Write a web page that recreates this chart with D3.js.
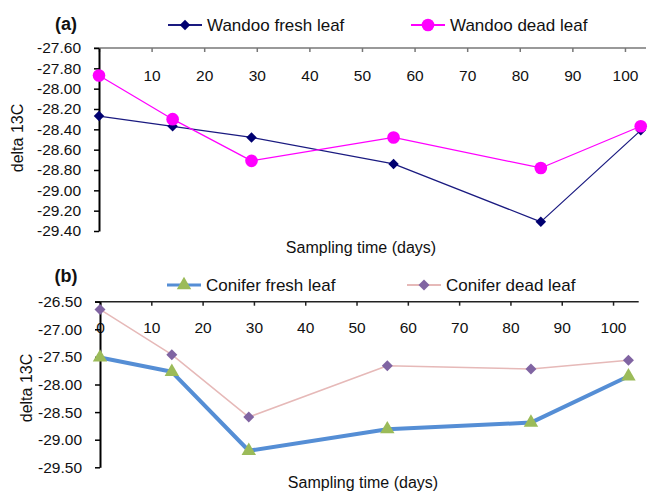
<!DOCTYPE html>
<html><head><meta charset="utf-8">
<script src="https://cdn.jsdelivr.net/npm/d3@7"></script>
<style>body{margin:0;background:#fff}svg{display:block}text{font-family:"Liberation Sans",Arial,sans-serif}</style>
</head><body>
<svg id="c" width="648" height="492"></svg>
<script>
const days = [0, 14, 29, 56, 84, 103];
const wandooFresh = [-28.27, -28.37, -28.48, -28.74, -29.31, -28.41];
const wandooDead  = [-27.87, -28.30, -28.71, -28.48, -28.78, -28.37];
const coniferFresh = [-27.51, -27.77, -29.20, -28.81, -28.69, -27.85];
const coniferDead  = [-26.64, -27.46, -28.59, -27.66, -27.72, -27.56];
const xTicks = [0,10,20,30,40,50,60,70,80,90,100];
const yTicksA = [-27.6,-27.8,-28.0,-28.2,-28.4,-28.6,-28.8,-29.0,-29.2,-29.4];
const yTicksB = [-26.5,-27.0,-27.5,-28.0,-28.5,-29.0,-29.5];
const seriesNamesA = ["Wandoo fresh leaf","Wandoo dead leaf"];
const seriesNamesB = ["Conifer fresh leaf","Conifer dead leaf"];

const svg = d3.select("#c");

function panel(cfg){
  const g = svg.append("g");
  const x = d3.scaleLinear().domain(cfg.xDomain).range(cfg.xRange);
  const y = d3.scaleLinear().domain(cfg.yDomain).range(cfg.yRange);
  const xa = g.append("g").attr("transform",`translate(0,${cfg.yRange[1]})`)
    .call(d3.axisBottom(x).tickValues(xTicks).tickSize(4).tickPadding(cfg.xPad).tickSizeOuter(0).tickFormat(d=>d));
  xa.select(".domain").attr("stroke",cfg.xAxisColor).attr("stroke-width",1.5)
    .attr("d",`M${cfg.xRange[0]-5},0H${cfg.xRange[1]}`);
  xa.selectAll(".tick line").attr("stroke",cfg.xAxisColor).attr("stroke-width",1.5);
  xa.selectAll("text").attr("font-size","15.5px").attr("fill","#111");
  const ya = g.append("g").attr("transform",`translate(${cfg.xRange[0]},0)`)
    .call(d3.axisLeft(y).tickValues(cfg.yTicks).tickSize(5).tickPadding(13).tickSizeOuter(0).tickFormat(d=>d.toFixed(2)));
  ya.select(".domain").attr("stroke","#000").attr("stroke-width",2);
  ya.selectAll(".tick line").attr("stroke","#000").attr("stroke-width",1.5);
  ya.selectAll("text").attr("font-size","15.5px").attr("fill","#111");
  g.append("text").attr("x",cfg.xTitleX).attr("y",cfg.xTitleY).attr("text-anchor","middle")
    .attr("font-size","16px").attr("fill","#111").text("Sampling time (days)");
  g.append("text").attr("transform",`translate(${cfg.yTitleX},${cfg.yTitleY}) rotate(-90)`)
    .attr("text-anchor","middle").attr("dy","0.35em").attr("font-size","16px").attr("fill","#111").text("delta 13C");
  g.append("text").attr("x",cfg.tagX).attr("y",cfg.tagY).attr("text-anchor","middle")
    .attr("font-family","'Liberation Serif','Times New Roman',serif").attr("font-weight","bold")
    .attr("font-size","18px").attr("fill","#111").text(cfg.tag);
  cfg.series.forEach(s=>{
    const line = d3.line().x((d,i)=>x(days[i])).y(d=>y(d));
    g.append("path").datum(s.values).attr("d",line).attr("fill","none")
      .attr("stroke",s.lineColor).attr("stroke-width",s.lineWidth).attr("stroke-linejoin","round");
    const sym = d3.symbol().type(s.symbol).size(s.size);
    g.selectAll(null).data(s.values).enter().append("path")
      .attr("d",sym).attr("transform",(d,i)=>`translate(${x(days[i])},${y(d)})${s.symbol===d3.symbolSquare?" rotate(45)":""}`)
      .attr("fill",s.markColor);
    const L = s.legend;
    g.append("line").attr("x1",L.x).attr("x2",L.x+34).attr("y1",L.y).attr("y2",L.y)
      .attr("stroke",s.lineColor).attr("stroke-width",s.legendWidth);
    g.append("path").attr("d",sym).attr("transform",`translate(${L.x+17},${L.y})${s.symbol===d3.symbolSquare?" rotate(45)":""}`)
      .attr("fill",s.markColor);
    g.append("text").attr("x",L.x+39).attr("y",L.y).attr("dy","0.36em").attr("font-size","17px")
      .attr("fill","#111").text(s.name);
  });
}

panel({
  xDomain:[0,104], xRange:[99,646], yDomain:[-29.4,-27.6], yRange:[231,48], yTicks:yTicksA,
  xPad:18, xAxisColor:"#777",
  xTitleX:361, xTitleY:253, yTitleX:17, yTitleY:138, tag:"(a)", tagX:66, tagY:30,
  series:[
    {name:seriesNamesA[0], values:wandooFresh, lineColor:"#1a1a80", lineWidth:1.25, legendWidth:2, markColor:"#000070", symbol:d3.symbolSquare, size:55, legend:{x:168,y:25}},
    {name:seriesNamesA[1], values:wandooDead, lineColor:"#ff00ff", lineWidth:1.25, legendWidth:2, markColor:"#ff00ff", symbol:d3.symbolCircle, size:125, legend:{x:411,y:25}}
  ]
});
panel({
  xDomain:[0,105], xRange:[100,638.7], yDomain:[-29.5,-26.5], yRange:[467.3,301.7], yTicks:yTicksB,
  xPad:16, xAxisColor:"#222",
  xTitleX:363, xTitleY:488, yTitleX:26, yTitleY:388, tag:"(b)", tagX:66, tagY:282,
  series:[
    {name:seriesNamesB[0], values:coniferFresh, lineColor:"#558ed5", lineWidth:4, legendWidth:3, markColor:"#9bbb59", symbol:d3.symbolTriangle, size:90, legend:{x:167,y:285}},
    {name:seriesNamesB[1], values:coniferDead, lineColor:"#e6b9b8", lineWidth:1.5, legendWidth:2, markColor:"#8064a2", symbol:d3.symbolSquare, size:60, legend:{x:407,y:285}}
  ]
});
</script>
</body></html>
